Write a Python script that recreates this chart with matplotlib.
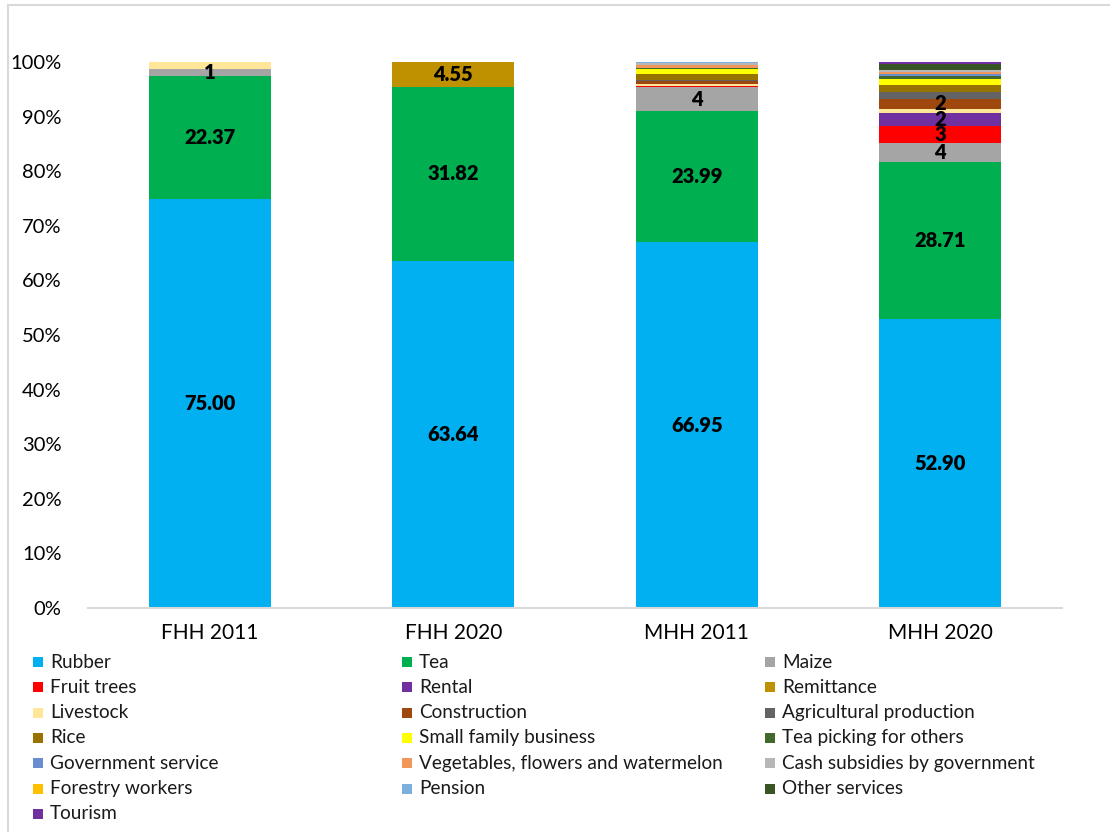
import numpy as np
import matplotlib
matplotlib.use("Agg")
import matplotlib.pyplot as plt
from matplotlib.patches import Rectangle

plt.rcParams["font.family"] = ["Lato", "DejaVu Sans"]

# Household groups
groups = ["FHH 2011", "FHH 2020", "MHH 2011", "MHH 2020"]

# Share of income by source (%), one list per source, same order as groups
rubber = [75.00, 63.64, 66.95, 52.90]
tea = [22.37, 31.82, 23.99, 28.71]
maize = [1.32, 0, 4.45, 3.55]
fruit_trees = [0, 0, 0.2, 3.2]
rental = [0, 0, 0, 2.3]
remittance = [0, 4.55, 0, 0]
livestock = [1.31, 0, 0.4, 0.7]
construction = [0, 0, 0.45, 1.9]
agri_production = [0, 0, 0.3, 1.2]
rice = [0, 0, 1.1, 1.35]
small_business = [0, 0, 0.85, 1.05]
tea_picking = [0, 0, 0.3, 0.6]
gov_service = [0, 0, 0, 0.3]
vegetables = [0, 0, 0.55, 0.5]
cash_subsidies = [0, 0, 0.2, 0.2]
forestry = [0, 0, 0, 0]
pension = [0, 0, 0.2, 0.1]
other_services = [0, 0, 0, 1.05]
tourism = [0, 0, 0, 0.5]

series = [
    ("Rubber", rubber, "#00B0F0"),
    ("Tea", tea, "#00B050"),
    ("Maize", maize, "#A5A5A5"),
    ("Fruit trees", fruit_trees, "#FF0000"),
    ("Rental", rental, "#7030A0"),
    ("Remittance", remittance, "#BF9000"),
    ("Livestock", livestock, "#FFE699"),
    ("Construction", construction, "#9E480E"),
    ("Agricultural production", agri_production, "#636363"),
    ("Rice", rice, "#997300"),
    ("Small family business", small_business, "#FFFF00"),
    ("Tea picking for others", tea_picking, "#43682B"),
    ("Government service", gov_service, "#698ED0"),
    ("Vegetables, flowers and watermelon", vegetables, "#F1975A"),
    ("Cash subsidies by government", cash_subsidies, "#B7B7B7"),
    ("Forestry workers", forestry, "#FFC000"),
    ("Pension", pension, "#7CAFDD"),
    ("Other services", other_services, "#375623"),
    ("Tourism", tourism, "#7030A0"),
]

# sources that carry value labels, and their number format
label_fmt = {
    "Rubber": "{:.2f}",
    "Tea": "{:.2f}",
    "Remittance": "{:.2f}",
    "Maize": "{:.0f}",
    "Fruit trees": "{:.0f}",
    "Rental": "{:.0f}",
    "Construction": "{:.0f}",
}

W, H = 1110, 832
fig = plt.figure(figsize=(W / 100, H / 100), dpi=100)
ax = fig.add_axes([88 / W, 1 - 608 / H, (1062 - 88) / W, (608 - 62) / H])

x = np.arange(len(groups))
bottom = np.zeros(len(groups))
for name, vals, color in series:
    vals = np.array(vals, dtype=float)
    ax.bar(x, vals, width=0.5, bottom=bottom, color=color, linewidth=0)
    if name in label_fmt:
        for xi, v, b in zip(x, vals, bottom):
            if v >= 1:
                ax.text(xi, b + v / 2, label_fmt[name].format(v), ha="center",
                        va="center", fontsize=14.5, fontweight="heavy", color="black")
    bottom += vals

ax.set_xlim(-0.5, len(groups) - 0.5)
ax.set_ylim(0, 100)
ax.set_yticks(np.arange(0, 101, 10))
ax.set_yticklabels([f"{t}%" for t in range(0, 101, 10)], fontsize=14.5)
ax.set_xticks(x)
ax.set_xticklabels(groups, fontsize=15)
ax.tick_params(axis="y", length=0, pad=19)
ax.tick_params(axis="x", length=0, pad=11)
for s in ["top", "right", "left"]:
    ax.spines[s].set_visible(False)
ax.spines["bottom"].set_color("#D9D9D9")
ax.spines["bottom"].set_linewidth(1.5)

# legend laid out row by row in three columns
col_x = [33, 402, 765]
row_y0, row_dy = 662, 25.3
for i, (name, _, color) in enumerate(series):
    r, c = divmod(i, 3)
    cx = col_x[c]
    cy = row_y0 + r * row_dy
    fig.add_artist(Rectangle((cx / W, 1 - (cy + 5) / H), 10 / W, 10 / H,
                             transform=fig.transFigure, facecolor=color,
                             edgecolor="none"))
    fig.text((cx + 17) / W, 1 - cy / H, name, fontsize=13.7, va="center",
             ha="left", color="#1a1a1a")

# chart frame
fig.add_artist(Rectangle((8 / W, -0.1), 1.2, 1.1 - 5 / H,
                         transform=fig.transFigure, fill=False,
                         edgecolor="#D9D9D9", linewidth=1.5))

fig.savefig("out.png", dpi=100, facecolor="white")
